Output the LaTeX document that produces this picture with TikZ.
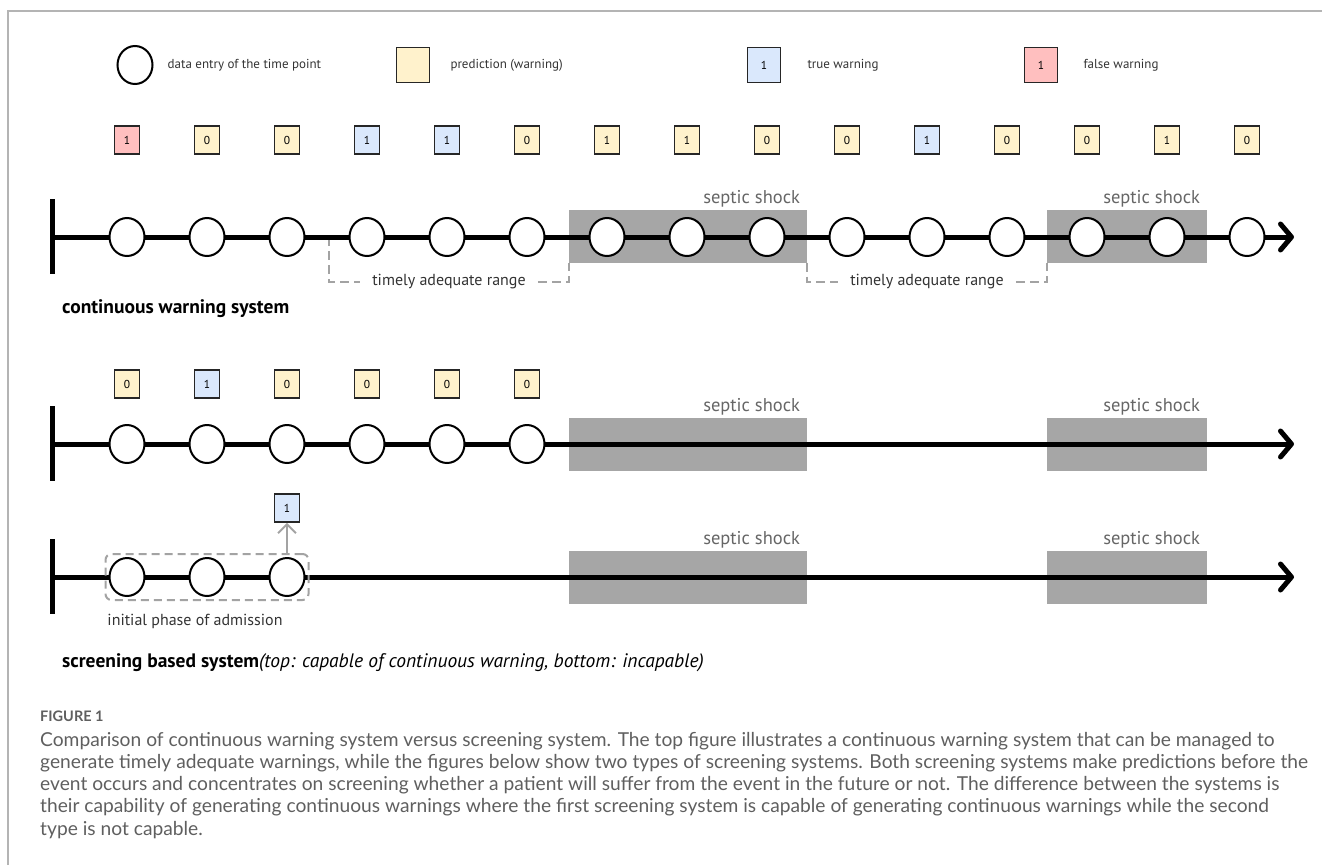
\documentclass[tikz,border=0pt]{standalone}
\usepackage{fontspec}
\setmainfont{PT Sans}
\newfontfamily\capfont{Lato}
\usetikzlibrary{arrows.meta}
\usetikzlibrary{positioning}
\usetikzlibrary{shapes.geometric}
\usetikzlibrary{fit}

\definecolor{predyellow}{HTML}{FFF2CC}
\definecolor{trueblue}{HTML}{DAE8FC}
\definecolor{falsered}{HTML}{FFBFBF}
\definecolor{shockgray}{HTML}{A6A6A6}
\definecolor{dashgray}{HTML}{A3A3A3}
\definecolor{framegray}{HTML}{B4B4B4}
\definecolor{captiongray}{HTML}{5F5F5F}

\tikzset{
    entry/.style={ellipse, draw, line width=2pt, fill=white, minimum width=35pt, minimum height=38pt, inner sep=0pt},
    warnbox/.style={rectangle, draw=black!85, line width=1.6pt, minimum width=25pt, minimum height=28pt, inner sep=0pt, font=\fontsize{11.5}{11.5}\selectfont},
    predw/.style={warnbox, fill=predyellow},
    truew/.style={warnbox, fill=trueblue},
    falsew/.style={warnbox, fill=falsered},
    legbox/.style={minimum width=33pt, minimum height=35pt},
    axisline/.style={line width=5pt, -{Straight Barb[length=11pt, width=26pt, round]}},
    startbar/.style={line width=5pt},
    shock/.style={rectangle, fill=shockgray, minimum height=53pt, inner sep=0pt},
    shocklbl/.style={text=black!60, font=\fontsize{18.5}{18.5}\selectfont, inner sep=2pt, anchor=south east},
    bracket/.style={draw=dashgray, line width=2pt, dash pattern=on 9pt off 5pt},
    rangelbl/.style={text=black!80, font=\fontsize{16}{16}\selectfont, inner sep=0pt},
    legtext/.style={text=black!80, font=\fontsize{13}{13}\selectfont, anchor=west, inner sep=0pt},
    syslbl/.style={font=\bfseries\fontsize{19.5}{19.5}\selectfont, anchor=west, inner sep=0pt},
}

\begin{document}
\begin{tikzpicture}[x=1pt, y=-1pt]
    \useasboundingbox (0,0) rectangle (1322,865);
    \draw[framegray, line width=1.5pt] (8,865) -- (8,11) -- (1322,11);

    % legend
    \node[entry] (lg1) at (135,65) {};
    \node[legtext, right=14pt of lg1] (lgt1) {data entry of the time point};
    \node[predw, legbox] (lg2) at (413,65) {};
    \node[legtext, right=20pt of lg2] (lgt2) {prediction (warning)};
    \node[truew, legbox] (lg3) at (764,65) {1};
    \node[legtext, right=26pt of lg3] (lgt3) {true warning};
    \node[falsew, legbox] (lg4) at (1041,65) {1};
    \node[legtext, right=25pt of lg4] (lgt4) {false warning};

    % septic shock periods
    \foreach \yy/\t in {236/a, 444/b, 577/c}{
            \node[shock, minimum width=238pt] (sh1\t) at (688,\yy) {};
            \node[shock, minimum width=160pt] (sh2\t) at (1127,\yy) {};
            \node[shocklbl] (sl1\t) at ([xshift=-5pt]sh1\t.north east) {septic shock};
            \node[shocklbl] (sl2\t) at ([xshift=-5pt]sh2\t.north east) {septic shock};
        }

    % continuous warning system
    \coordinate (ta) at (52,237);
    \coordinate (tb) at (1294,237);
    \coordinate (ra) at (329,237);
    \node[rangelbl] (tl1) at (449,282) {timely adequate range};
    \node[rangelbl] (tl2) at (927,282) {timely adequate range};
    \draw[bracket] (ra) |- ([xshift=-12pt]tl1.west);
    \draw[bracket] ([xshift=12pt]tl1.east) -| (sh1a.south west);
    \draw[bracket] (sh1a.south east) |- ([xshift=-12pt]tl2.west);
    \draw[bracket] ([xshift=12pt]tl2.east) -| (sh2a.south west);
    \draw[startbar] (52,199) -- (52,274);
    \draw[axisline] (ta) -- (tb);
    \foreach \v/\k[
        count=\n,
        evaluate=\n as \xx using int(47+80*\n),
    ] in {1/falsew,0/predw,0/predw,1/truew,1/truew,0/predw,1/predw,1/predw,0/predw,0/predw,1/truew,0/predw,0/predw,1/predw,0/predw}{
            \node[\k] (wa\n) at (\xx,140) {\v};
            \node[entry] (ea\n) at (\xx,237) {};
        }
    \node[syslbl] (sys1) at (62,309) {continuous warning system};

    % screening, capable
    \coordinate (tc) at (52,444);
    \coordinate (td) at (1294,444);
    \draw[startbar] (52,406) -- (52,481);
    \draw[axisline] (tc) -- (td);
    \foreach \v/\k[
        count=\n,
        evaluate=\n as \xx using int(47+80*\n),
    ] in {0/predw,1/truew,0/predw,0/predw,0/predw,0/predw}{
            \node[\k] (wb\n) at (\xx,384) {\v};
            \node[entry] (eb\n) at (\xx,444) {};
        }

    % screening, incapable
    \coordinate (te) at (52,577);
    \coordinate (tf) at (1294,577);
    \draw[startbar] (52,539) -- (52,614);
    \draw[axisline] (te) -- (tf);
    \foreach \n in {1,2,3}{
            \node[entry] (ec\n) at ({47+80*\n},577) {};
        }
    \node[draw=dashgray, line width=2pt, dash pattern=on 8pt off 5pt, rounded corners=6pt,
        inner sep=3pt, fit=(ec1)(ec3)] (phase) {};
    \node[truew] (wc3) at (287,508) {1};
    \draw[dashgray, line width=2pt, -{Straight Barb[length=9pt, width=18pt]}] (phase.north -| ec3) -- (wc3.south);
    \node[rangelbl] (phl) at (195,621) {initial phase of admission};
    \node[syslbl] (sys2) at (62,663) {screening based system\textit{\mdseries(top: capable of continuous warning, bottom: incapable)}};

    % caption
    \node[anchor=west, inner sep=0pt, text=captiongray, font=\capfont\bfseries\fontsize{14.5}{15}\selectfont] (fig) at (40,716) {FIGURE 1};
    \node[anchor=north west, inner sep=0pt, align=left, text=captiongray, font=\capfont\fontsize{19.2}{22.2}\selectfont] (cap) at (40,732) {%
        Comparison of continuous warning system versus screening system. The top figure illustrates a continuous warning system that can be managed to\\
        generate timely adequate warnings, while the figures below show two types of screening systems. Both screening systems make predictions before the\\
        event occurs and concentrates on screening whether a patient will suffer from the event in the future or not. The difference between the systems is\\
        their capability of generating continuous warnings where the first screening system is capable of generating continuous warnings while the second\\
        type is not capable.};
\end{tikzpicture}
\end{document}
